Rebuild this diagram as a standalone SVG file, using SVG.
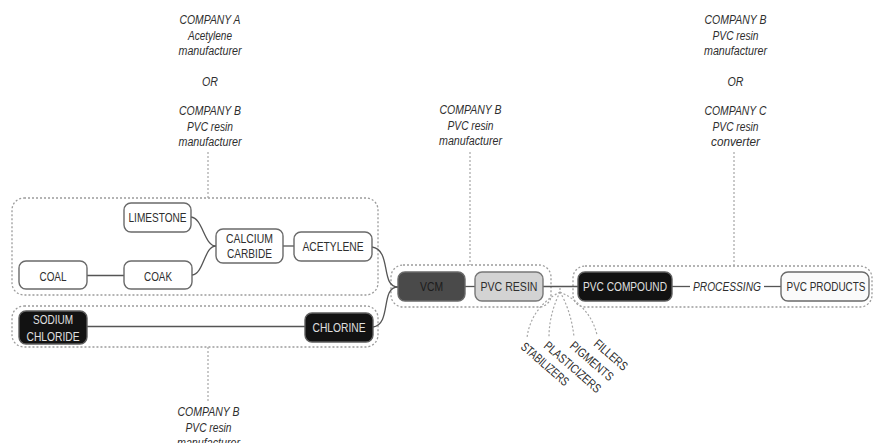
<svg xmlns="http://www.w3.org/2000/svg" width="873" height="443" viewBox="0 0 873 443">
  <style>
    .grp{fill:none;stroke:#9c9c9c;stroke-width:1.3;stroke-dasharray:2 2}
    .lead{fill:none;stroke:#a6a6a6;stroke-width:1.2;stroke-dasharray:2 2}
    .wire{fill:none;stroke:#555;stroke-width:1.3}
    .box{fill:#fff;stroke:#6a6a6a;stroke-width:1.4}
    .dark{fill:#121212;stroke:#5e5e5e;stroke-width:1.4}
    .mid{fill:#4a4a4a;stroke:#6a6a6a;stroke-width:1.4}
    .light{fill:#d3d3d3;stroke:#777;stroke-width:1.4}
    .pale{fill:#fafafa;stroke:#6a6a6a;stroke-width:1.4}
    text{font-family:"Liberation Sans Narrow","Liberation Sans",Arial,sans-serif}
    .lbl{font-size:13px;fill:#2e2e2e;text-anchor:middle}
    .inv{fill:#e0e0e0}
    .dim{fill:#1c1c1c}
    .co{font-size:12px;font-style:italic;fill:#2e2e2e;text-anchor:middle}
    .add{font-size:12.5px;fill:#2e2e2e}
  </style>

  <!-- dotted grouping outlines -->
  <g id="groups">
    <rect class="grp" x="12" y="198" width="366" height="97" rx="12"/>
    <rect class="grp" x="12" y="306" width="366" height="41" rx="12"/>
    <rect class="grp" x="391" y="265" width="160" height="42" rx="12"/>
    <rect class="grp" x="573" y="266" width="299" height="41" rx="12"/>
  </g>

  <!-- company captions -->
  <g id="company-acetylene">
    <text class="co" x="210" y="24" textLength="61" lengthAdjust="spacingAndGlyphs">COMPANY A</text>
    <text class="co" x="210" y="39.5" textLength="44" lengthAdjust="spacingAndGlyphs">Acetylene</text>
    <text class="co" x="210" y="55" textLength="63" lengthAdjust="spacingAndGlyphs">manufacturer</text>
    <text class="co" x="210" y="86" textLength="16" lengthAdjust="spacingAndGlyphs">OR</text>
    <text class="co" x="210" y="115" textLength="62" lengthAdjust="spacingAndGlyphs">COMPANY B</text>
    <text class="co" x="210" y="130.5" textLength="46" lengthAdjust="spacingAndGlyphs">PVC resin</text>
    <text class="co" x="210" y="146" textLength="63" lengthAdjust="spacingAndGlyphs">manufacturer</text>
  </g>
  <g id="company-resin">
    <text class="co" x="470.5" y="114" textLength="62" lengthAdjust="spacingAndGlyphs">COMPANY B</text>
    <text class="co" x="470.5" y="129.5" textLength="46" lengthAdjust="spacingAndGlyphs">PVC resin</text>
    <text class="co" x="470.5" y="145" textLength="63" lengthAdjust="spacingAndGlyphs">manufacturer</text>
  </g>
  <g id="company-converter">
    <text class="co" x="735.5" y="24" textLength="62" lengthAdjust="spacingAndGlyphs">COMPANY B</text>
    <text class="co" x="735.5" y="39.5" textLength="46" lengthAdjust="spacingAndGlyphs">PVC resin</text>
    <text class="co" x="735.5" y="55" textLength="63" lengthAdjust="spacingAndGlyphs">manufacturer</text>
    <text class="co" x="735.5" y="86" textLength="16" lengthAdjust="spacingAndGlyphs">OR</text>
    <text class="co" x="735.5" y="115" textLength="62" lengthAdjust="spacingAndGlyphs">COMPANY C</text>
    <text class="co" x="735.5" y="130.5" textLength="46" lengthAdjust="spacingAndGlyphs">PVC resin</text>
    <text class="co" x="735.5" y="146" textLength="49" lengthAdjust="spacingAndGlyphs">converter</text>
  </g>
  <g id="company-chlorine">
    <text class="co" x="208.5" y="416" textLength="62" lengthAdjust="spacingAndGlyphs">COMPANY B</text>
    <text class="co" x="208.5" y="431.5" textLength="46" lengthAdjust="spacingAndGlyphs">PVC resin</text>
    <text class="co" x="208.5" y="447" textLength="63" lengthAdjust="spacingAndGlyphs">manufacturer</text>
  </g>

  <!-- connectors -->
  <g id="connectors">
    <path class="lead" d="M208,152 V198"/>
    <path class="lead" d="M208,347 V402"/>
    <path class="lead" d="M470,152 V265"/>
    <path class="lead" d="M734,152 V266"/>

    <path class="wire" d="M87,275.5 H124"/>
    <path class="wire" d="M191,217 C203,218 204,246 216,246"/>
    <path class="wire" d="M192,275 C204,274 204,246 216,246"/>
    <path class="wire" d="M283,246 H294"/>
    <path class="wire" d="M372,247 C392,250 380,287 398,287"/>
    <path class="wire" d="M87,326.5 H305"/>
    <path class="wire" d="M373,327 C392,324 380,287 398,287"/>
    <path class="wire" d="M465,286.5 H475"/>
    <path class="wire" d="M543,286.5 H578"/>
    <path class="wire" d="M672,286.5 H690"/>
    <path class="wire" d="M764,286.5 H781"/>

    <path class="lead" d="M560,288 V292"/>
    <path class="lead" d="M560,292 C548,298 530,312 527,338"/>
    <path class="lead" d="M560,292 C555,302 549,318 549,337"/>
    <path class="lead" d="M560,292 C566,302 572,318 574,337"/>
    <path class="lead" d="M560,292 C574,298 592,312 597,335"/>
  </g>

  <!-- raw materials -->
  <g id="limestone">
    <rect class="box" x="124" y="203" width="67" height="29" rx="7"/>
    <text class="lbl" x="157.5" y="222" textLength="58" lengthAdjust="spacingAndGlyphs">LIMESTONE</text>
  </g>
  <g id="coal">
    <rect class="box" x="19" y="261" width="68" height="28" rx="7"/>
    <text class="lbl" x="53" y="281" textLength="27" lengthAdjust="spacingAndGlyphs">COAL</text>
  </g>
  <g id="coak">
    <rect class="box" x="124" y="261" width="68" height="28" rx="7"/>
    <text class="lbl" x="158" y="281" textLength="28" lengthAdjust="spacingAndGlyphs">COAK</text>
  </g>
  <g id="calcium-carbide">
    <rect class="box" x="216" y="229" width="67" height="34" rx="7"/>
    <text class="lbl" x="249.5" y="243" textLength="47" lengthAdjust="spacingAndGlyphs">CALCIUM</text>
    <text class="lbl" x="249.5" y="258" textLength="45" lengthAdjust="spacingAndGlyphs">CARBIDE</text>
  </g>
  <g id="acetylene">
    <rect class="box" x="294" y="232" width="78" height="29" rx="7"/>
    <text class="lbl" x="333" y="251" textLength="61" lengthAdjust="spacingAndGlyphs">ACETYLENE</text>
  </g>
  <g id="sodium-chloride">
    <rect class="dark" x="19" y="311" width="68" height="33" rx="7"/>
    <text class="lbl inv" x="53" y="324" textLength="40" lengthAdjust="spacingAndGlyphs">SODIUM</text>
    <text class="lbl inv" x="53" y="341" textLength="53" lengthAdjust="spacingAndGlyphs">CHLORIDE</text>
  </g>
  <g id="chlorine">
    <rect class="dark" x="305" y="313" width="68" height="29" rx="7"/>
    <text class="lbl inv" x="339" y="332" textLength="53" lengthAdjust="spacingAndGlyphs">CHLORINE</text>
  </g>

  <!-- polymer chain -->
  <g id="vcm">
    <rect class="mid" x="398" y="272" width="67" height="29" rx="7"/>
    <text class="lbl dim" x="431.5" y="291" textLength="23" lengthAdjust="spacingAndGlyphs">VCM</text>
  </g>
  <g id="pvc-resin">
    <rect class="light" x="475" y="272" width="68" height="29" rx="7"/>
    <text class="lbl" x="509" y="291" textLength="57" lengthAdjust="spacingAndGlyphs">PVC RESIN</text>
  </g>
  <g id="pvc-compound">
    <rect class="dark" x="578" y="272" width="94" height="29" rx="7"/>
    <text class="lbl inv" x="625" y="291" textLength="84" lengthAdjust="spacingAndGlyphs">PVC COMPOUND</text>
  </g>
  <g id="processing">
    <text class="lbl" x="727" y="291" font-style="italic" textLength="68" lengthAdjust="spacingAndGlyphs">PROCESSING</text>
  </g>
  <g id="pvc-products">
    <rect class="pale" x="781" y="272" width="88" height="29" rx="7"/>
    <text class="lbl" x="826" y="291" textLength="79" lengthAdjust="spacingAndGlyphs">PVC PRODUCTS</text>
  </g>

  <!-- additives -->
  <g id="additives">
    <text class="add" transform="translate(520,348) rotate(41)" textLength="59" lengthAdjust="spacingAndGlyphs">STABILIZERS</text>
    <text class="add" transform="translate(543,347) rotate(41)" textLength="71" lengthAdjust="spacingAndGlyphs">PLASTICIZERS</text>
    <text class="add" transform="translate(569,347) rotate(41)" textLength="53" lengthAdjust="spacingAndGlyphs">PIGMENTS</text>
    <text class="add" transform="translate(593,345) rotate(41)" textLength="40" lengthAdjust="spacingAndGlyphs">FILLERS</text>
  </g>
</svg>
